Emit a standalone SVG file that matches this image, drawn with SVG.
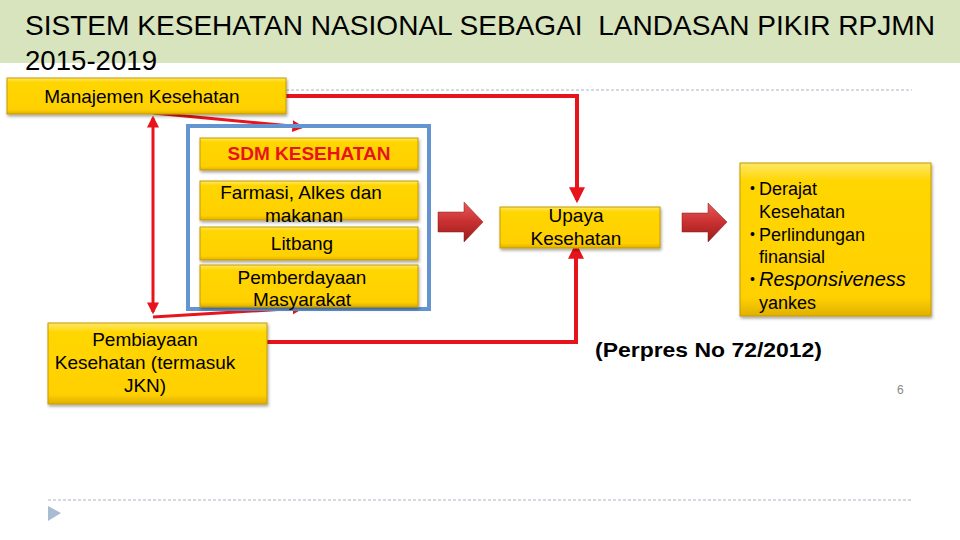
<svg xmlns="http://www.w3.org/2000/svg" width="960" height="540" viewBox="0 0 960 540">
<defs>
<linearGradient id="gold" x1="0" y1="0" x2="0" y2="1">
<stop offset="0" stop-color="#ffe866"/>
<stop offset="0.12" stop-color="#ffd600"/>
<stop offset="0.88" stop-color="#ffd000"/>
<stop offset="1" stop-color="#e0b000"/>
</linearGradient>
<linearGradient id="redg" x1="0" y1="0" x2="0" y2="1">
<stop offset="0" stop-color="#e85a5a"/>
<stop offset="0.5" stop-color="#c83030"/>
<stop offset="1" stop-color="#9a1c1c"/>
</linearGradient>
<filter id="sh" x="-10%" y="-10%" width="120%" height="130%">
<feDropShadow dx="1" dy="2" stdDeviation="1.5" flood-color="#000" flood-opacity="0.35"/>
</filter>
<marker id="ah" viewBox="0 0 10 10" refX="8" refY="5" markerWidth="4" markerHeight="4" orient="auto-start-reverse">
<path d="M0,0 L10,5 L0,10 z" fill="#e8141c"/>
</marker>
<style>
.box{fill:url(#gold);stroke:#c49a00;stroke-width:1;filter:url(#sh)}
.t{font-family:"Liberation Sans",Arial,sans-serif;font-size:19px;fill:#000;text-anchor:middle}
.red{fill:none;stroke:#e8141c;stroke-width:4}
.redt{fill:none;stroke:#e8141c;stroke-width:3}
.blk{fill:url(#redg);stroke:#8a1a1a;stroke-width:0.5}
.bul{font-size:14px}
</style>
</defs>
<rect width="960" height="540" fill="#fff"/>
<rect x="0" y="0" width="960" height="63" fill="#d7e4bd"/>
<text x="25" y="35" font-family="Liberation Sans, Arial, sans-serif" font-size="28" fill="#000" textLength="910" lengthAdjust="spacingAndGlyphs" xml:space="preserve">SISTEM KESEHATAN NASIONAL SEBAGAI  LANDASAN PIKIR RPJMN</text>
<text x="25" y="70" font-family="Liberation Sans, Arial, sans-serif" font-size="28" fill="#000" textLength="132" lengthAdjust="spacingAndGlyphs">2015-2019</text>
<line x1="286" y1="90" x2="912" y2="90" stroke="#a8b4c4" stroke-width="1" stroke-dasharray="3,2"/>
<line x1="48" y1="500" x2="912" y2="500" stroke="#a8b4c4" stroke-width="1" stroke-dasharray="3,2"/>
<path d="M48,506 L61,513 L48,521 z" fill="#a9bcd4"/>

<g id="connectors">
<polyline class="red" points="263,96 577,96 577,200" marker-end="url(#ah)"/>
<polyline class="red" points="265,342 576,342 576,246" marker-end="url(#ah)"/>
<line class="redt" x1="153" y1="118" x2="153" y2="312" marker-start="url(#ah)" marker-end="url(#ah)"/>
<line class="redt" x1="153" y1="113" x2="302" y2="127" marker-end="url(#ah)"/>
<line class="redt" x1="153" y1="317" x2="302" y2="308" marker-end="url(#ah)"/>
<path class="blk" d="M438,212 L464,212 L464,202 L483,222 L464,242 L464,232 L438,232 z"/>
<path class="blk" d="M682,213 L708,213 L708,203 L727,222 L708,242 L708,232 L682,232 z"/>
</g>

<g id="manajemen">
<rect class="box" x="7" y="78" width="279" height="36"/>
<text class="t" x="142" y="103">Manajemen Kesehatan</text>
</g>

<g id="sdm-group">
<rect x="188" y="126" width="241" height="183" fill="none" stroke="#6495d0" stroke-width="4"/>
</g>
<g id="sdm">
<rect class="box" x="200" y="138" width="218" height="32"/>
<text class="t" x="309" y="160" font-weight="bold" style="fill:#e8141c">SDM KESEHATAN</text>
</g>
<g id="farmasi">
<rect class="box" x="200" y="181" width="218" height="39"/>
<text class="t" x="301" y="199">Farmasi, Alkes dan</text>
<text class="t" x="304" y="222">makanan</text>
</g>
<g id="litbang">
<rect class="box" x="200" y="227" width="218" height="33"/>
<text class="t" x="302" y="250">Litbang</text>
</g>
<g id="pemberdayaan">
<rect class="box" x="200" y="265" width="218" height="42"/>
<text class="t" x="302" y="284">Pemberdayaan</text>
<text class="t" x="302" y="306">Masyarakat</text>
</g>

<g id="pembiayaan">
<rect class="box" x="48" y="323" width="219" height="81"/>
<text class="t" x="145" y="346">Pembiayaan</text>
<text class="t" x="145" y="369">Kesehatan (termasuk</text>
<text class="t" x="145" y="392">JKN)</text>
</g>

<g id="upaya">
<rect class="box" x="500" y="207" width="160" height="41"/>
<text class="t" x="576" y="222">Upaya</text>
<text class="t" x="576" y="245">Kesehatan</text>
</g>

<g id="outcome">
<rect class="box" x="740" y="163" width="191" height="153"/>
<g font-family="Liberation Sans, Arial, sans-serif" font-size="18" fill="#000">
<text class="bul" x="750" y="193">•</text>
<text x="759" y="195">Derajat</text>
<text x="759" y="218">Kesehatan</text>
<text class="bul" x="750" y="239">•</text>
<text x="759" y="241">Perlindungan</text>
<text x="759" y="263">finansial</text>
<text class="bul" x="750" y="284">•</text>
<text x="759" y="286" font-size="20" font-style="italic">Responsiveness</text>
<text x="759" y="309">yankes</text>
</g>
</g>

<text x="595" y="357" font-family="Liberation Sans, Arial, sans-serif" font-size="21" font-weight="bold" fill="#000" textLength="227" lengthAdjust="spacingAndGlyphs">(Perpres No 72/2012)</text>
<text x="897" y="394" font-family="Liberation Sans, Arial, sans-serif" font-size="12" fill="#888">6</text>
</svg>
